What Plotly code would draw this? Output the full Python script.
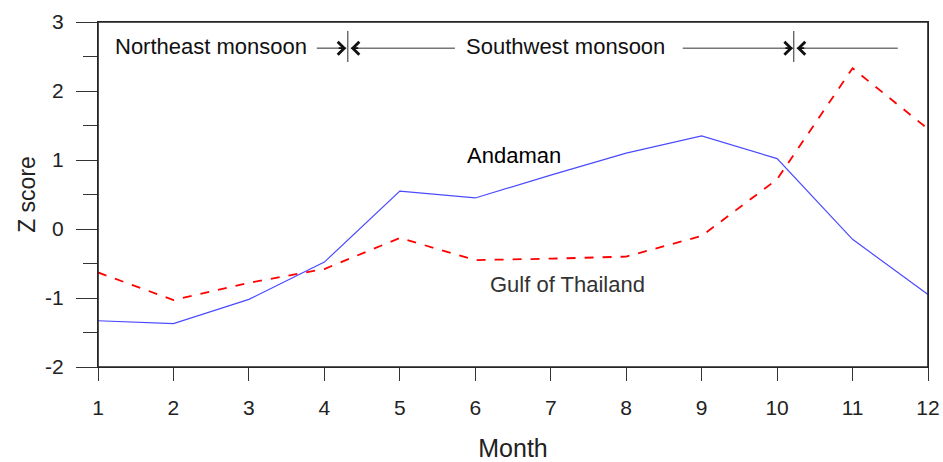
import plotly.graph_objects as go

months = list(range(1, 13))
andaman = [-1.33, -1.37, -1.02, -0.48, 0.55, 0.45, 0.78, 1.10, 1.35, 1.02, -0.15, -0.95]
gulf = [-0.63, -1.03, -0.78, -0.58, -0.13, -0.45, -0.43, -0.40, -0.10, 0.72, 2.33, 1.45]
y_ticks = [-2, -1, 0, 1, 2, 3]
y_ticktext = ["-2", "-1", "0", "1", "2", "3"]

FONT = "Liberation Sans, Arial, sans-serif"
fig = go.Figure()
fig.add_trace(go.Scatter(x=months, y=andaman, mode="lines", name="Andaman",
                         line=dict(color="#4a4aff", width=1.2)))
fig.add_trace(go.Scatter(x=months, y=gulf, mode="lines", name="Gulf of Thailand",
                         line=dict(color="#ff0000", width=1.8, dash="dash")))

axis_common = dict(showgrid=False, zeroline=False, showline=True, linecolor="#333",
                   linewidth=1.3, mirror=True, ticks="outside", tickcolor="#333",
                   automargin=False,
                   tickfont=dict(family=FONT, size=21, color="#222"))
fig.update_xaxes(range=[1, 12], tickvals=months, ticklen=13, tickwidth=1.2,
                 ticklabelstandoff=9,
                 title=dict(text="Month", font=dict(family=FONT, size=25, color="#222"), standoff=26),
                 **axis_common)
fig.update_yaxes(range=[-2, 3], tickvals=y_ticks, ticktext=y_ticktext, ticklen=21, tickwidth=1.2,
                 ticklabelstandoff=8,
                 minor=dict(dtick=0.5, tick0=0, ticklen=14, ticks="outside", tickcolor="#333", tickwidth=1.2),
                 title=dict(text="Z score", font=dict(family=FONT, size=23, color="#222"), standoff=2),
                 **axis_common)

# plot frame
fig.add_shape(type="rect", xref="paper", yref="paper", x0=0, x1=1, y0=0, y1=1,
              line=dict(color="#222", width=1.6), fillcolor="rgba(0,0,0,0)", layer="above")

ya = 2.62
arrows = [(3.90, 4.29), (5.73, 4.35), (8.75, 10.21), (11.60, 10.26)]
for tail, tip in arrows:
    fig.add_shape(type="line", x0=tail, x1=tip, y0=ya, y1=ya, xref="x", yref="y",
                  line=dict(color="#777", width=1.6))
    d = 0.12 if tip > tail else -0.12
    fig.add_annotation(x=tip, y=ya, ax=tip - d, ay=ya, xref="x", yref="y", axref="x", ayref="y",
                       text="", showarrow=True, arrowhead=4, arrowsize=1.4, arrowwidth=1.8,
                       arrowcolor="#111", standoff=0)
for xd in [4.31, 10.22]:
    fig.add_shape(type="line", x0=xd, x1=xd, y0=2.42, y1=2.87, xref="x", yref="y",
                  line=dict(color="#666", width=1.4))

labels = [(2.5, 2.65, "Northeast monsoon", "#111"), (7.20, 2.65, "Southwest monsoon", "#111"),
          (6.51, 1.07, "Andaman", "#000"), (7.22, -0.81, "Gulf of Thailand", "#333")]
for x, y, t, c in labels:
    fig.add_annotation(x=x, y=y, text=t, showarrow=False, xref="x", yref="y",
                       font=dict(family=FONT, size=22, color=c))

fig.update_layout(width=943, height=462, margin=dict(l=98, r=15, t=22, b=95),
                  plot_bgcolor="white", paper_bgcolor="white", showlegend=False)
fig.write_html("out.html", config={"displayModeBar": False},
               post_script="document.body.style.margin='0px';document.body.style.overflow='hidden';")
